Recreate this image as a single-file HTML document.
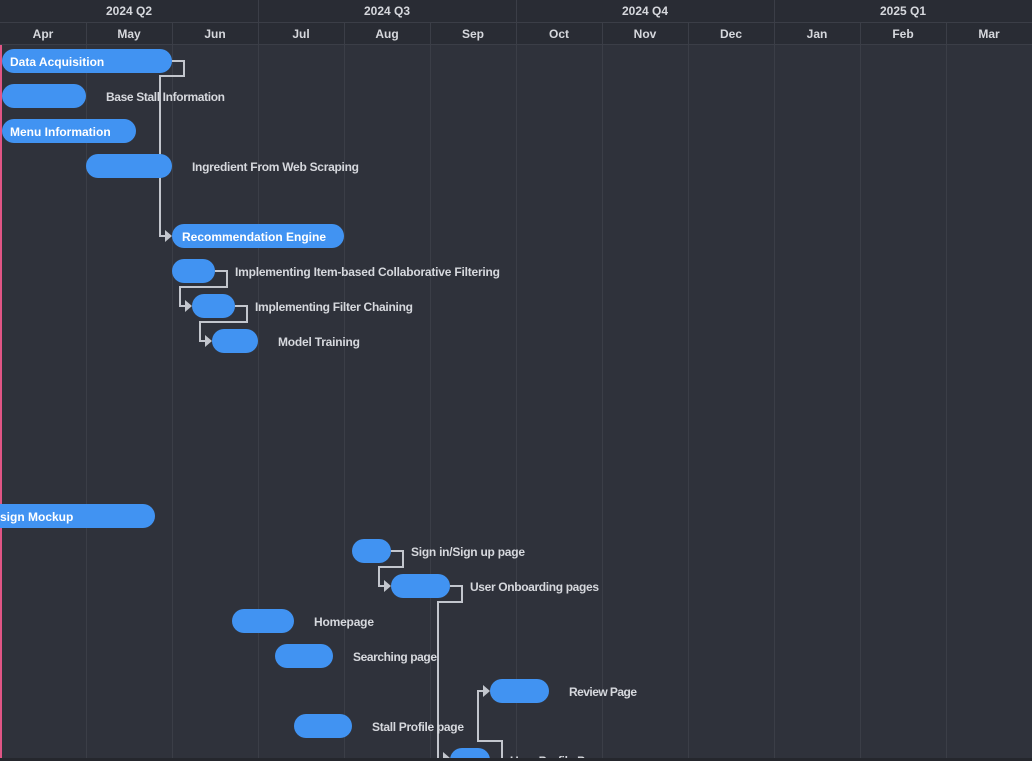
<!DOCTYPE html>
<html><head><meta charset="utf-8"><style>
html,body{margin:0;padding:0;background:#2f323b;width:1032px;height:761px;overflow:hidden}
svg{display:block}
text{font-family:"Liberation Sans",sans-serif;font-weight:bold;font-size:12px}
</style></head><body>
<svg width="1032" height="761" viewBox="0 0 1032 761">
<rect width="1032" height="761" fill="#2f323b"/>
<rect width="1032" height="44" fill="#292c34"/>
<g stroke="#3b3e47" stroke-width="1">
<line x1="0" y1="22.5" x2="1032" y2="22.5"/>
<line x1="0" y1="44.5" x2="1032" y2="44.5"/>
<line x1="258.5" y1="0" x2="258.5" y2="761"/>
<line x1="516.5" y1="0" x2="516.5" y2="761"/>
<line x1="774.5" y1="0" x2="774.5" y2="761"/>
<line x1="86.5" y1="22" x2="86.5" y2="761"/>
<line x1="172.5" y1="22" x2="172.5" y2="761"/>
<line x1="344.5" y1="22" x2="344.5" y2="761"/>
<line x1="430.5" y1="22" x2="430.5" y2="761"/>
<line x1="602.5" y1="22" x2="602.5" y2="761"/>
<line x1="688.5" y1="22" x2="688.5" y2="761"/>
<line x1="860.5" y1="22" x2="860.5" y2="761"/>
<line x1="946.5" y1="22" x2="946.5" y2="761"/>
</g>
<g fill="#d6d8dd" text-anchor="middle" style="font-size:11px;font-weight:normal">
<text x="129" y="15">2024 Q2</text><text x="387" y="15">2024 Q3</text><text x="645" y="15">2024 Q4</text><text x="903" y="15">2025 Q1</text>
<text x="43" y="38">Apr</text><text x="129" y="38">May</text><text x="215" y="38">Jun</text><text x="301" y="38">Jul</text><text x="387" y="38">Aug</text><text x="473" y="38">Sep</text><text x="559" y="38">Oct</text><text x="645" y="38">Nov</text><text x="731" y="38">Dec</text><text x="817" y="38">Jan</text><text x="903" y="38">Feb</text><text x="989" y="38">Mar</text>
</g>
<rect x="0" y="45" width="2" height="713" fill="#e05585"/>
<g fill="none" stroke="#c3c6cd" stroke-width="2">
<polyline points="172,61 184,61 184,76 160,76 160,236 166,236"/>
<polyline points="215,271 227,271 227,287 180,287 180,306 186,306"/>
<polyline points="235,306 247,306 247,322 200,322 200,341 206,341"/>
<polyline points="391,551 403,551 403,567 379,567 379,586 385,586"/>
<polyline points="450,586 462,586 462,602 438,602 438,761"/>
<polyline points="502,761 502,741 478,741 478,691 484,691"/>
</g>
<g fill="#c3c6cd">
<polygon points="165,230 172,236 165,242"/>
<polygon points="185,300 192,306 185,312"/>
<polygon points="205,335 212,341 205,347"/>
<polygon points="384,580 391,586 384,592"/>
<polygon points="483,685 490,691 483,697"/>
<polygon points="443,752 450,758 443,761"/>
</g>
<g fill="#4193f2">
<rect x="2" y="49" width="170" height="24" rx="12"/>
<rect x="2" y="84" width="84" height="24" rx="12"/>
<rect x="2" y="119" width="134" height="24" rx="12"/>
<rect x="86" y="154" width="86" height="24" rx="12"/>
<rect x="172" y="224" width="172" height="24" rx="12"/>
<rect x="172" y="259" width="43" height="24" rx="12"/>
<rect x="192" y="294" width="43" height="24" rx="12"/>
<rect x="212" y="329" width="46" height="24" rx="12"/>
<rect x="-20" y="504" width="175" height="24" rx="12"/>
<rect x="352" y="539" width="39" height="24" rx="12"/>
<rect x="391" y="574" width="59" height="24" rx="12"/>
<rect x="232" y="609" width="62" height="24" rx="12"/>
<rect x="275" y="644" width="58" height="24" rx="12"/>
<rect x="490" y="679" width="59" height="24" rx="12"/>
<rect x="294" y="714" width="58" height="24" rx="12"/>
<rect x="450" y="748" width="40" height="24" rx="12"/>
</g>
<g fill="#ffffff">
<text x="10" y="66">Data Acquisition</text>
<text x="10" y="136">Menu Information</text>
<text x="182" y="241">Recommendation Engine</text>
<text x="0" y="521">sign Mockup</text>
</g>
<g fill="#d6d8dd">
<text x="106" y="101" textLength="119">Base Stall Information</text>
<text x="192" y="171" textLength="167">Ingredient From Web Scraping</text>
<text x="235" y="276" textLength="265">Implementing Item-based Collaborative Filtering</text>
<text x="255" y="311" textLength="158">Implementing Filter Chaining</text>
<text x="278" y="346" textLength="82">Model Training</text>
<text x="411" y="556" textLength="114">Sign in/Sign up page</text>
<text x="470" y="591" textLength="129">User Onboarding pages</text>
<text x="314" y="626" textLength="60">Homepage</text>
<text x="353" y="661" textLength="84">Searching page</text>
<text x="569" y="696" textLength="68">Review Page</text>
<text x="372" y="731" textLength="92">Stall Profile page</text>
<text x="510" y="765" textLength="95">User Profile Page</text>
</g>
<rect x="0" y="758" width="1032" height="3" fill="#25272d"/>
</svg>
</body></html>
